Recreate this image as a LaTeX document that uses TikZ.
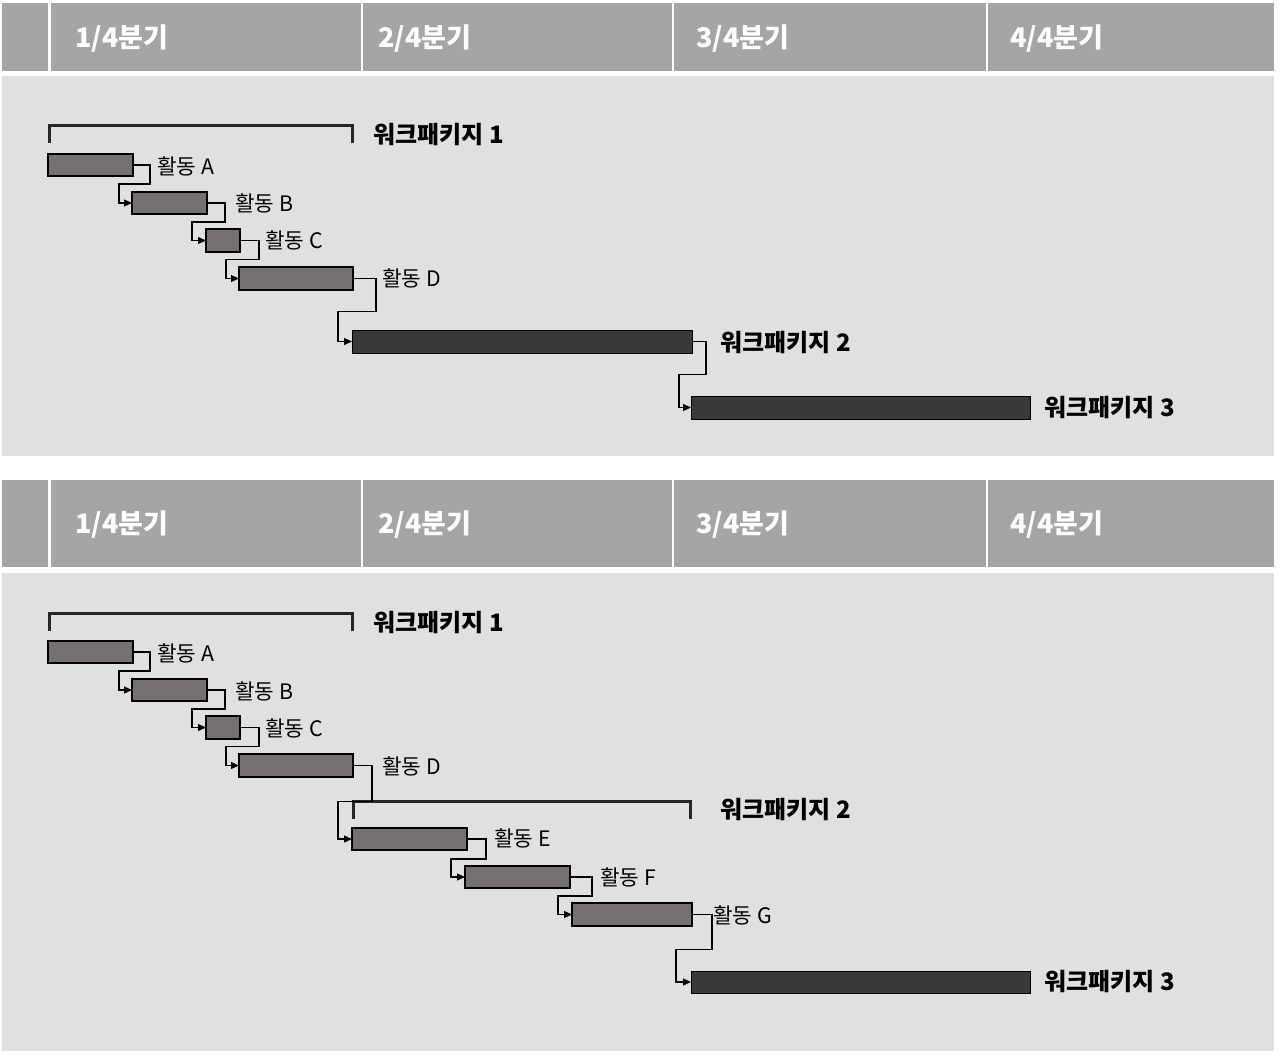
\documentclass[tikz,border=0pt]{standalone}
\usepackage{fontspec}
\setmainfont{Noto Sans CJK KR}
\usetikzlibrary{arrows.meta,calc}
\definecolor{hdr}{HTML}{A5A5A5}
\definecolor{panel}{HTML}{E0E0E0}
\definecolor{actfill}{HTML}{767170}
\definecolor{wpfill}{HTML}{3B3937}
\tikzset{
  hcell/.style={fill=hdr,draw=none},
  htext/.style={anchor=west,text=white,font=\bfseries\fontsize{27}{30}\selectfont,inner sep=0pt},
  actbar/.style={draw=black,line width=1.8pt,fill=actfill,anchor=north west,inner sep=0pt,outer sep=0pt},
  wpbar/.style={draw=black,line width=0.8pt,fill=wpfill,anchor=north west,inner sep=0pt,outer sep=0pt},
  actlabel/.style={anchor=west,inner sep=0pt,font=\fontsize{21.3}{23}\selectfont},
  wplabel/.style={anchor=west,inner sep=0pt,font=\bfseries\fontsize{24}{26}\selectfont},
  bracketline/.style={draw=black!85,line width=3pt},
  conn/.style={draw=black,line width=1.2pt,-{Triangle[length=8pt,width=7pt]}},
}
\begin{document}
\begin{tikzpicture}[x=1pt,y=-1pt]
\useasboundingbox[fill=white] (0,0) rectangle (1280,1055);
% ---------------- top panel ----------------
\fill[hcell] (2,3) rectangle (48,71);
\fill[hcell] (51,3) rectangle (361,71);
\fill[hcell] (363,3) rectangle (672,71);
\fill[hcell] (674,3) rectangle (986,71);
\fill[hcell] (988,3) rectangle (1274,71);
\node[htext] (h1) at (75,39) {1/4분기};
\node[htext] (h2) at (378,39) {2/4분기};
\node[htext] (h3) at (696,39) {3/4분기};
\node[htext] (h4) at (1010,39) {4/4분기};
\fill[panel] (2,76) rectangle (1274,456);

\draw[bracketline] (49.5,143) -- (49.5,125.5) -- (352.5,125.5) -- (352.5,143);
\node[wplabel] (w1) at (373,135) {워크패키지 1};

\node[actbar,minimum width=85,minimum height=22] (A) at (48,154) {};
\node[actlabel] (la) at (157,166) {활동 A};
\node[actbar,minimum width=75,minimum height=22] (B) at (132,192) {};
\node[actlabel] (lb) at (235,203) {활동 B};
\node[actbar,minimum width=34,minimum height=23] (C) at (206,229) {};
\node[actlabel] (lc) at (265,240) {활동 C};
\node[actbar,minimum width=114,minimum height=23] (D) at (239,267) {};
\node[actlabel] (ld) at (382,278) {활동 D};
\node[wpbar,minimum width=340,minimum height=23] (W2) at (352,330) {};
\node[wplabel] (w2) at (720,343) {워크패키지 2};
\node[wpbar,minimum width=339,minimum height=23] (W3) at (691,396) {};
\node[wplabel] (w3) at (1044,408) {워크패키지 3};

\draw[conn] (A.east) -| ++(17,19) -| ($(B.west)+(-13,0)$) -- (B.west);
\draw[conn] (B.east) -| ++(18,19) -| ($(C.west)+(-14,0)$) -- (C.west);
\draw[conn] (C.east) -| ++(19,19) -| ($(D.west)+(-13,0)$) -- (D.west);
\draw[conn] (D.east) -| ++(23,33) -| ($(W2.west)+(-14,0)$) -- (W2.west);
\draw[conn] (W2.east) -| ++(14,33) -| ($(W3.west)+(-12,0)$) -- (W3.west);

% ---------------- bottom panel ----------------
\fill[hcell] (2,480) rectangle (48,567);
\fill[hcell] (51,480) rectangle (361,567);
\fill[hcell] (363,480) rectangle (672,567);
\fill[hcell] (674,480) rectangle (986,567);
\fill[hcell] (988,480) rectangle (1274,567);
\node[htext] (bh1) at (75,525) {1/4분기};
\node[htext] (bh2) at (378,525) {2/4분기};
\node[htext] (bh3) at (696,525) {3/4분기};
\node[htext] (bh4) at (1010,525) {4/4분기};
\fill[panel] (2,573) rectangle (1274,1051);

\draw[bracketline] (49.5,631) -- (49.5,613.5) -- (352.5,613.5) -- (352.5,631);
\node[wplabel] (bw1) at (373,623) {워크패키지 1};

\node[actbar,minimum width=85,minimum height=22] (bA) at (48,641) {};
\node[actlabel] (bla) at (157,653) {활동 A};
\node[actbar,minimum width=75,minimum height=22] (bB) at (132,679) {};
\node[actlabel] (blb) at (235,691) {활동 B};
\node[actbar,minimum width=34,minimum height=23] (bC) at (206,716) {};
\node[actlabel] (blc) at (265,728) {활동 C};
\node[actbar,minimum width=114,minimum height=23] (bD) at (239,754) {};
\node[actlabel] (bld) at (382,766) {활동 D};

\draw[bracketline] (353.5,819) -- (353.5,801.5) -- (690.5,801.5) -- (690.5,819);
\node[wplabel] (bw2) at (720,810) {워크패키지 2};

\node[actbar,minimum width=115,minimum height=22] (bE) at (352,828) {};
\node[actlabel] (ble) at (494,838) {활동 E};
\node[actbar,minimum width=105,minimum height=22] (bF) at (465,866) {};
\node[actlabel] (blf) at (600,877) {활동 F};
\node[actbar,minimum width=120,minimum height=23] (bG) at (572,903) {};
\node[actlabel] (blg) at (713,915) {활동 G};
\node[wpbar,minimum width=339,minimum height=22] (bW3) at (691,971) {};
\node[wplabel] (bw3) at (1044,982) {워크패키지 3};

\draw[conn] (bA.east) -| ++(17,19) -| ($(bB.west)+(-13,0)$) -- (bB.west);
\draw[conn] (bB.east) -| ++(18,19) -| ($(bC.west)+(-14,0)$) -- (bC.west);
\draw[conn] (bC.east) -| ++(19,19) -| ($(bD.west)+(-13,0)$) -- (bD.west);
\draw[conn] (bD.east) -| ++(19,36) -| ($(bE.west)+(-14,0)$) -- (bE.west);
\draw[conn] (bE.east) -| ++(19,20) -| ($(bF.west)+(-14,0)$) -- (bF.west);
\draw[conn] (bF.east) -| ++(22,19) -| ($(bG.west)+(-14,0)$) -- (bG.west);
\draw[conn] (bG.east) -| ++(20,35) -| ($(bW3.west)+(-15,0)$) -- (bW3.west);
\end{tikzpicture}
\end{document}
